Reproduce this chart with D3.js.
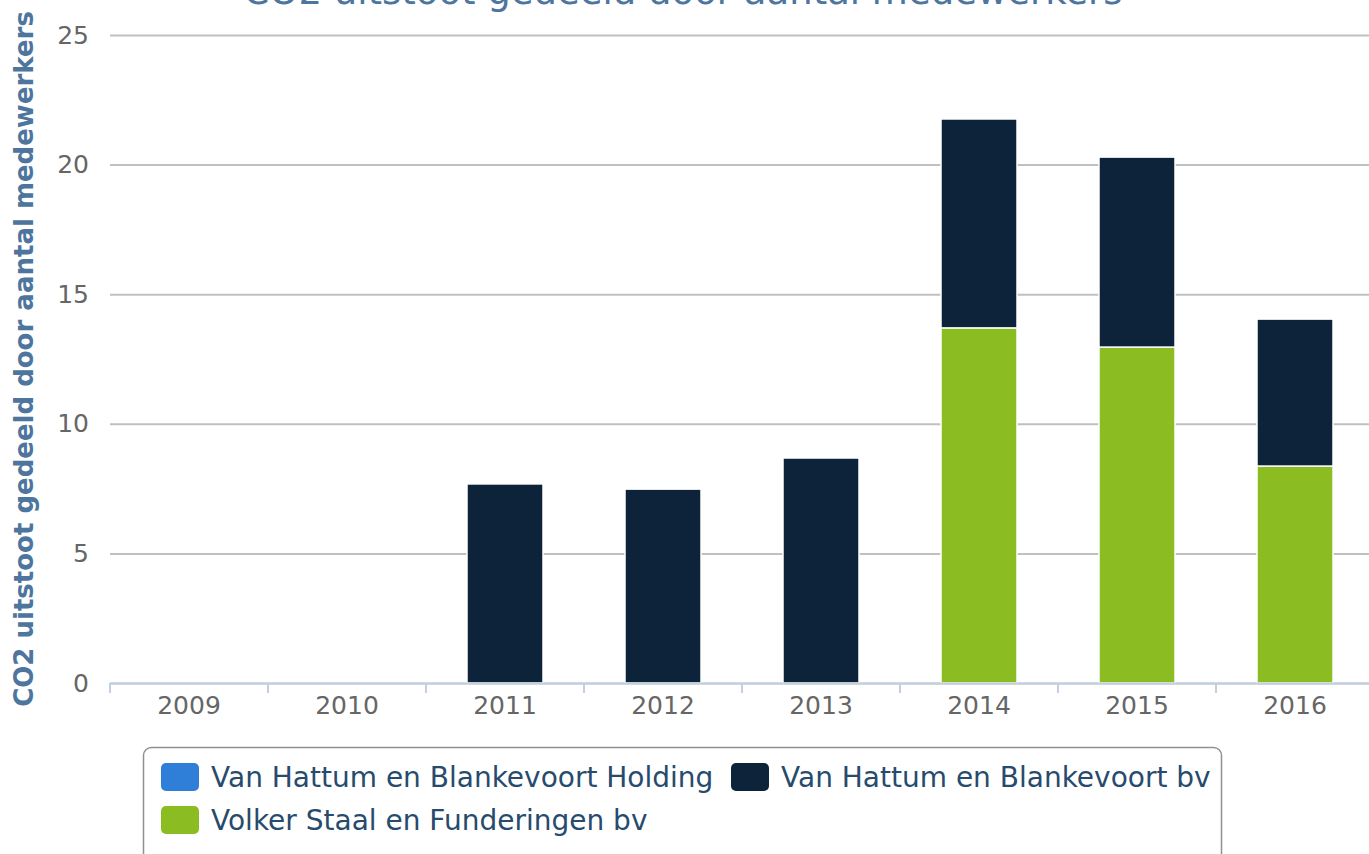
<!DOCTYPE html>
<html>
<head>
<meta charset="utf-8">
<script src="https://cdn.jsdelivr.net/npm/d3@7"></script>
<style>
  body { margin: 0; background: #fff; overflow: hidden; }
  svg { display: block; }
  .tick text { font-family: "DejaVu Sans", sans-serif; fill: #666; }
</style>
</head>
<body>
<svg id="chart" width="1369" height="854"></svg>
<script>
const years = ["2009", "2010", "2011", "2012", "2013", "2014", "2015", "2016"];
const holding = [0, 0, 0, 0, 0, 0, 0, 0];
const vhbBv = [0, 0, 7.68, 7.48, 8.68, 8.06, 7.33, 5.67];
const volker = [0, 0, 0, 0, 0, 13.70, 12.96, 8.37];
const yTicks = [0, 5, 10, 15, 20, 25];

const seriesNames = ["Van Hattum en Blankevoort Holding", "Van Hattum en Blankevoort bv", "Volker Staal en Funderingen bv"];
const seriesColors = ["#2f7ed8", "#0d233a", "#8bbc21"];

const margin = {left: 110, top: 35, right: -5, bottom: 171};
const width = 1369, height = 854;
const innerW = width - margin.left - margin.right;
const innerH = height - margin.top - margin.bottom;

const svg = d3.select("#chart");

const x = d3.scaleBand().domain(years).range([0, innerW]).paddingInner(0).paddingOuter(0);
const y = d3.scaleLinear().domain([0, 25]).range([innerH, 0]);

// title (cut off at top in the original)
svg.append("text")
  .attr("x", 683).attr("y", 4)
  .attr("text-anchor", "middle")
  .attr("font-family", "DejaVu Sans, sans-serif")
  .attr("font-size", 37)
  .attr("fill", "#4d759e")
  .text("CO2 uitstoot gedeeld door aantal medewerkers");

const g = svg.append("g").attr("transform", `translate(${margin.left},${margin.top})`);

// grid + y labels
const yAxis = d3.axisLeft(y).tickValues(yTicks).tickSize(-innerW).tickPadding(21);
g.append("g").attr("class", "axis y").call(yAxis)
  .call(s => s.select(".domain").remove())
  .call(s => s.selectAll(".tick line").attr("stroke", "#c0c0c0").attr("stroke-width", 2))
  .call(s => s.selectAll(".tick text").attr("font-size", 25).attr("dy", "0.32em"));

// stacked bars, first series on top
const rows = years.map((yr, i) => ({year: yr, s0: holding[i], s1: vhbBv[i], s2: volker[i]}));
const stack = d3.stack().keys(["s2", "s1", "s0"]);
const layers = stack(rows);
const colorFor = {s0: seriesColors[0], s1: seriesColors[1], s2: seriesColors[2]};
const barW = 76;

g.selectAll(".layer").data(layers).enter().append("g")
  .attr("class", "layer")
  .attr("fill", d => colorFor[d.key])
  .selectAll("rect").data(d => d.filter(e => e[1] - e[0] > 0)).enter().append("rect")
  .attr("x", d => x(d.data.year) + x.bandwidth() / 2 - barW / 2)
  .attr("width", barW)
  .attr("y", d => y(d[1]))
  .attr("height", d => y(d[0]) - y(d[1]))
  .attr("stroke", "#fff")
  .attr("stroke-width", 1.5);

// x axis
const xAxis = d3.axisBottom(x).tickSize(0).tickPadding(13);
const xg = g.append("g").attr("class", "axis x").attr("transform", `translate(0,${innerH})`).call(xAxis);
xg.select(".domain").attr("stroke", "#c0d0e0").attr("stroke-width", 2);
xg.selectAll(".tick text").attr("font-size", 25);
xg.selectAll(".boundary").data(years).enter().append("line")
  .attr("x1", d => x(d)).attr("x2", d => x(d))
  .attr("y1", 0).attr("y2", 10)
  .attr("stroke", "#c0d0e0").attr("stroke-width", 2);

// y axis title
svg.append("text")
  .attr("transform", `translate(33,${margin.top + innerH / 2}) rotate(-90)`)
  .attr("text-anchor", "middle")
  .attr("font-family", "DejaVu Sans, sans-serif")
  .attr("font-weight", "bold")
  .attr("font-size", 26)
  .attr("fill", "#4d759e")
  .text("CO2 uitstoot gedeeld door aantal medewerkers");

// legend
const legend = svg.append("g").attr("class", "legend");
legend.append("rect")
  .attr("x", 143.5).attr("y", 747.5).attr("width", 1078).attr("height", 130)
  .attr("rx", 8).attr("fill", "none").attr("stroke", "#909090").attr("stroke-width", 1.5);

const legendPos = [[161, 777], [731, 777], [161, 820]];
const items = legend.selectAll(".item").data(seriesNames).enter().append("g")
  .attr("transform", (d, i) => `translate(${legendPos[i][0]},${legendPos[i][1]})`);
items.append("rect")
  .attr("x", 0).attr("y", -14).attr("width", 38).attr("height", 28).attr("rx", 5)
  .attr("fill", (d, i) => seriesColors[i]);
items.append("text")
  .attr("x", 50).attr("y", 0).attr("dy", "0.36em")
  .attr("font-family", "DejaVu Sans, sans-serif")
  .attr("font-size", 28)
  .attr("fill", "#274b6d")
  .text(d => d);
</script>
</body>
</html>
